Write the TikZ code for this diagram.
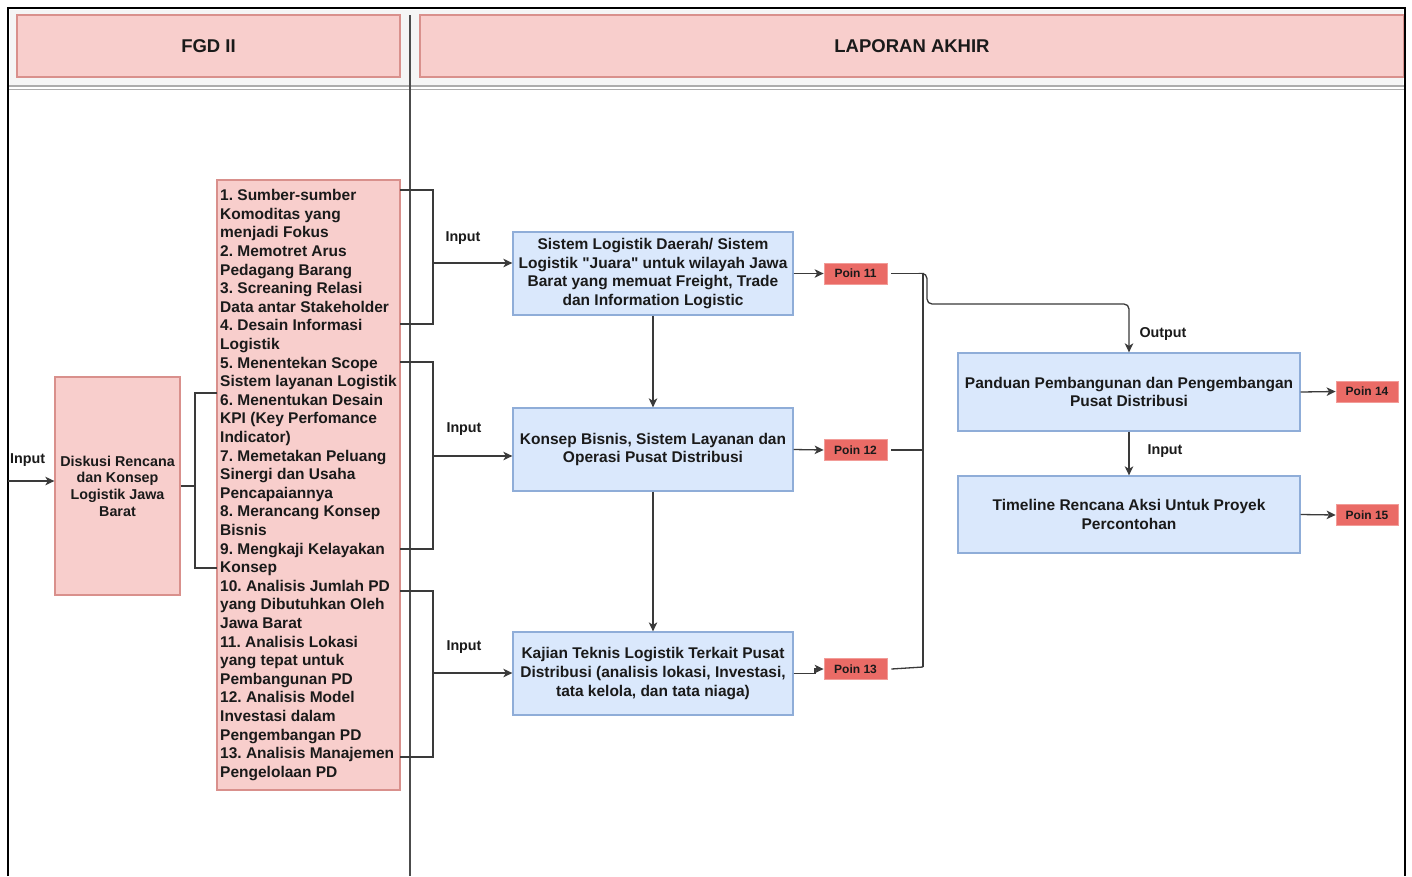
\documentclass[tikz,border=0pt]{standalone}
\usepackage{fontspec}
\setmainfont{Liberation Sans}
\usetikzlibrary{arrows.meta,calc}
\definecolor{pinkfill}{HTML}{F8CECC}
\definecolor{pinkdraw}{HTML}{D9908C}
\definecolor{bluefill}{HTML}{DAE8FC}
\definecolor{bluedraw}{HTML}{8FADD8}
\definecolor{poinfill}{HTML}{EA6B66}
\definecolor{poindraw}{HTML}{F29C98}
\definecolor{linecol}{HTML}{3A3A3A}
\definecolor{txtcol}{HTML}{1A1A1A}
\tikzset{
  hdr/.style={draw=pinkdraw, fill=pinkfill, line width=1.4pt, inner sep=0pt,
    font=\fontsize{18.5}{22}\selectfont\bfseries, text=txtcol},
  pinkbox/.style={draw=pinkdraw, fill=pinkfill, line width=1.3pt, inner sep=0pt, text=txtcol},
  bluebox/.style={draw=bluedraw, fill=bluefill, line width=1.3pt, inner sep=0pt, align=center,
    text=txtcol, font=\fontsize{15.5}{18.6}\selectfont\bfseries},
  poin/.style={draw=poindraw, fill=poinfill, line width=0.8pt, inner sep=0pt, text=txtcol,
    font=\fontsize{12}{14}\selectfont\bfseries},
  conn/.style={draw=linecol, line width=1.3pt},
  arr/.style={conn, -{Stealth[length=9pt,width=8.5pt,inset=2.5pt]}},
  lbl/.style={font=\fontsize{14.3}{17}\selectfont\bfseries, text=txtcol, inner sep=0pt},
}
\begin{document}
\frenchspacing
\begin{tikzpicture}[x=1pt,y=-1pt]
\useasboundingbox (0,0) rectangle (1412,876);
\fill[white] (0,0) rectangle (1412,876);
% header band
\fill[gray!8] (10,10) rectangle (1403,85);
% headers
\node[hdr, minimum width=383pt, minimum height=62pt] (fgd) at (208.5,46) {FGD II};
\node[hdr, minimum width=984pt, minimum height=62pt] (lap) at (912,46) {LAPORAN AKHIR};
% frame
\draw[gray!65, line width=1.2pt] (8,86) -- (1405,86);
\draw[gray!65, line width=1.2pt] (8,89.5) -- (1405,89.5);
\draw[gray!60!black, line width=1.3pt] (410,15) -- (410,876);
\draw[black, line width=2pt] (8,876) -- (8,8) -- (1405,8) -- (1405,876);

% left boxes
\node[pinkbox, minimum width=125pt, minimum height=218pt, align=center,
  font=\fontsize{14.3}{16.7}\selectfont\bfseries] (disk) at (117.5,486)
  {Diskusi Rencana\\dan Konsep\\Logistik Jawa\\Barat};
\node[pinkbox, minimum width=183pt, minimum height=610pt, align=left,
  font=\fontsize{15.5}{18.6}\selectfont\bfseries] (list) at (308.5,485)
  {1. Sumber-sumber\\Komoditas yang\\menjadi Fokus\\2. Memotret Arus\\Pedagang Barang\\%
   3. Screaning Relasi\\Data antar Stakeholder\\4. Desain Informasi\\Logistik\\%
   5. Menentekan Scope\\Sistem layanan Logistik\\6. Menentukan Desain\\KPI (Key Perfomance\\Indicator)\\%
   7. Memetakan Peluang\\Sinergi dan Usaha\\Pencapaiannya\\8. Merancang Konsep\\Bisnis\\%
   9. Mengkaji Kelayakan\\Konsep\\10. Analisis Jumlah PD\\yang Dibutuhkan Oleh\\Jawa Barat\\%
   11. Analisis Lokasi\\yang tepat untuk\\Pembangunan PD\\12. Analisis Model\\Investasi dalam\\%
   Pengembangan PD\\13. Analisis Manajemen\\Pengelolaan PD};

% middle boxes
\node[bluebox, minimum width=280pt, minimum height=83pt] (b1) at (653,273.5)
  {Sistem Logistik Daerah/ Sistem\\Logistik \textquotedbl Juara\textquotedbl{} untuk wilayah Jawa\\Barat yang memuat Freight, Trade\\dan Information Logistic};
\node[bluebox, minimum width=280pt, minimum height=83pt] (b2) at (653,449.5)
  {Konsep Bisnis, Sistem Layanan dan\\Operasi Pusat Distribusi};
\node[bluebox, minimum width=280pt, minimum height=83pt] (b3) at (653,673.5)
  {Kajian Teknis Logistik Terkait Pusat\\Distribusi (analisis lokasi, Investasi,\\tata kelola, dan tata niaga)};

% poin boxes
\node[poin, minimum width=63pt, minimum height=21pt] (p11) at (855.5,273.5) {Poin 11};
\node[poin, minimum width=63pt, minimum height=21pt] (p12) at (855.5,450) {Poin 12};
\node[poin, minimum width=63pt, minimum height=21pt] (p13) at (855.5,669) {Poin 13};

% right boxes
\node[bluebox, minimum width=342pt, minimum height=78pt] (pan) at (1129,392)
  {Panduan Pembangunan dan Pengembangan\\Pusat Distribusi};
\node[bluebox, minimum width=342pt, minimum height=77pt] (tim) at (1129,514.5)
  {Timeline Rencana Aksi Untuk Proyek\\Percontohan};
\node[poin, minimum width=62pt, minimum height=21pt] (p14) at (1367,391.5) {Poin 14};
\node[poin, minimum width=62pt, minimum height=21pt] (p15) at (1367,515) {Poin 15};

% input into Diskusi
\coordinate (inL) at (8,481);
\draw[arr] (inL) -- (inL -| disk.west);
\node[lbl, anchor=west] (linL) at (10,460) {Input};

% bracket Diskusi -> list
\coordinate (dl1) at (217,393);
\coordinate (dl2) at (217,568);
\draw[conn] (disk.east) -- (195,486);
\draw[conn] (dl1) -- (195,393) -- (195,568) -- (dl2);

% brackets list -> boxes
\coordinate (r1a) at (400,190); \coordinate (r1b) at (400,324);
\coordinate (r2a) at (400,362); \coordinate (r2b) at (400,549);
\coordinate (r3a) at (400,591); \coordinate (r3b) at (400,757);
\draw[conn] (r1a) -- (433,190) -- (433,324) -- (r1b);
\draw[conn] (r2a) -- (433,362) -- (433,549) -- (r2b);
\draw[conn] (r3a) -- (433,591) -- (433,757) -- (r3b);
\coordinate (i1) at (433,263);
\coordinate (i2) at (433,456);
\coordinate (i3) at (433,673);
\draw[arr] (i1) -- (i1 -| b1.west);
\draw[arr] (i2) -- (i2 -| b2.west);
\draw[arr] (i3) -- (i3 -| b3.west);
\node[lbl] (li1) at (463,238) {Input};
\node[lbl] (li2) at (464,429) {Input};
\node[lbl] (li3) at (464,647) {Input};

% vertical arrows in middle
\draw[arr] (b1.south) -- (b2.north);
\draw[arr] (b2.south) -- (b3.north);

% boxes -> poin
\draw[arr] (b1.east) -- (p11.west);
\draw[arr] (b2.east) -- (p12.west);
\draw[arr] (b3.east) -- (815,673.5) -- (815,669) -- (p13.west);

% poin -> trunk
\draw[conn] ([xshift=4pt]p11.east) -- (923,273.5);
\draw[conn] ([xshift=4pt]p12.east) -- (923,450);
\draw[conn] ([xshift=4pt]p13.east) -- (923,667);
\draw[conn] (923,273.5) -- (923,667);
\draw[arr, rounded corners=5pt] (924,273.5) -- (927,273.5) -- (927,304) -- (1129,304) -- (pan.north);
\node[lbl] (lout) at (1163,334) {Output};

% right column
\draw[arr] (pan.south) -- (tim.north);
\node[lbl] (lin4) at (1165,451) {Input};
\draw[arr] (pan.east) -- (p14.west);
\draw[arr] (tim.east) -- (p15.west);
\end{tikzpicture}
\end{document}
